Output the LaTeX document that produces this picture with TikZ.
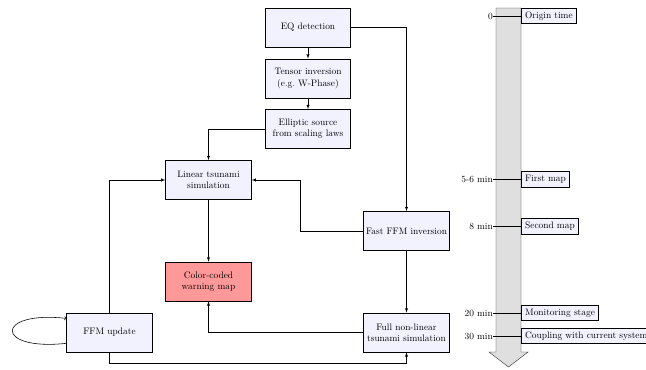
\documentclass[tikz,border=0pt]{standalone}
\usetikzlibrary{arrows}

\tikzset{
  stage/.style={draw, thick, fill=blue!5, align=center, text width=88pt,
    inner sep=1.5pt, minimum height=41.5pt},
  warn/.style={stage, fill=red!40},
  event/.style={draw, thick, fill=blue!5, inner xsep=4pt, inner ysep=2pt,
    minimum height=16.5pt, anchor=west},
  flow/.style={semithick, -latex},
}

\begin{document}
\begin{tikzpicture}[x=1.064pt, y=-1.064pt]
  \useasboundingbox (0,0) rectangle (646,369);

  % processing chain
  \node[stage] (eq) at (308,27.5) {EQ detection};
  \node[stage] (tensor) at (308,78.5) {Tensor inversion\\(e.g.\ W-Phase)};
  \node[stage] (ellip) at (308,129) {Elliptic source\\from scaling laws};
  \node[stage] (linear) at (208.5,180) {Linear tsunami\\simulation};
  \node[warn] (map) at (208.5,281.5) {Color-coded\\warning map};
  \node[stage] (fast) at (406.5,231) {Fast FFM inversion};
  \node[stage] (full) at (406.5,332.5) {Full non-linear\\tsunami simulation};
  \node[stage] (ffm) at (109.5,332.5) {FFM update};

  \begin{scope}[flow]
    \draw (eq) to (tensor);
    \draw (tensor) to (ellip);
    \draw (eq.east) -| (fast.north);
    \draw (ellip.west) -| (linear.north);
    \draw (fast.west) -- ++(-63,0) |- (linear.east);
    \draw (linear) to (map);
    \draw (fast) to (full);
    \draw (full.west) -| (map.south);
    \draw (ffm.north) |- (linear.west);
    \draw (ffm.south) -- ++(0,11) -| (full.south);
  \end{scope}
  \draw[semithick, ->] ([yshift=-11.5pt]ffm.west) .. controls +(-72,8) and +(-72,-8) .. ([yshift=15pt]ffm.west);

  % time line
  \draw[draw=black!85, fill=gray!25] (496,8) -- (521,8) -- (521,352) -- (528,352)
    -- (508.5,367) -- (489,352) -- (496,352) -- cycle;
  \foreach \y/\t/\e [count=\i] in {16/0/Origin time, 179.5/5-6 min/First map,
      226.5/8 min/Second map, 313/20 min/Monitoring stage,
      336/30 min/Coupling with current system}
  {
    \node[anchor=east, inner sep=0pt] (t\i) at (493,\y) {\t};
    \node[event] (e\i) at (521,\y) {\e};
    \draw[semithick] (t\i.east) -- (e\i.west);
  }
\end{tikzpicture}
\end{document}
